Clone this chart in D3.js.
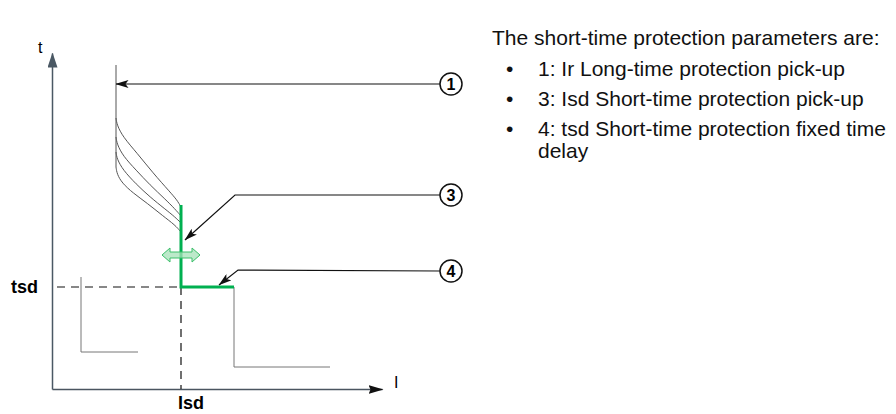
<!DOCTYPE html>
<html>
<head>
<meta charset="utf-8">
<script src="https://cdn.jsdelivr.net/npm/d3@7/dist/d3.min.js"></script>
<style>
  body { margin: 0; background: #fff; }
  svg { display: block; font-family: "Liberation Sans", Arial, sans-serif; }
</style>
</head>
<body>
<div id="chart"></div>
<script>
// diagram units: I to the right, t upward (arbitrary, no ticks)
const isd = 12.9;        // short-time pick-up current
const tsd = 10.2;        // short-time delay

// long-time vertical part (Ir) and the four long-time delay bands
const longTimeVertical = [[6.4, 32.4], [6.4, 22.2]];
const longTimeCurves = [
  [[6.4, 27.1], [6.5, 26.4], [7.1, 25.2], [8.5, 23.6], [10.1, 21.6], [11.8, 19.7], [12.5, 18.9], [12.9, 18.2]],
  [[6.4, 25.2], [6.5, 24.5], [7.1, 23.3], [8.4, 21.9], [9.8, 20.4], [11.3, 19.0], [12.3, 18.0], [12.9, 17.3]],
  [[6.4, 23.7], [6.5, 23.0], [7.1, 21.9], [8.4, 20.5], [9.8, 19.2], [11.3, 18.0], [12.3, 17.2], [12.9, 16.6]],
  [[6.4, 22.2], [6.5, 21.5], [7.0, 20.6], [8.1, 19.6], [9.5, 18.6], [11.1, 17.3], [12.3, 16.4], [12.9, 15.7]]
];
const shortTimeStep = [[isd, 18.4], [isd, tsd], [18.2, tsd]];
const shortTimeTail = [[18.2, tsd], [18.2, 2.2], [27.8, 2.2]];
const instantPart = [[2.9, 11.2], [2.9, 3.7], [8.6, 3.7]];

// callouts: label, circle position, path to the arrow tip
const calloutLabels = ['1', '3', '4'];
const calloutCircles = [[39.9, 30.5], [39.9, 19.4], [39.9, 11.8]];
const calloutPaths = [
  [[38.8, 30.5], [6.4, 30.5]],
  [[38.8, 19.4], [18.3, 19.4], [13.3, 14.9]],
  [[38.8, 11.8], [18.6, 11.9], [16.7, 10.4]]
];
const adjustCenter = [isd, 13.4];

const legendTitle = 'The short-time protection parameters are:';
const legendItems = [
  ['1: Ir Long-time protection pick-up'],
  ['3: Isd Short-time protection pick-up'],
  ['4: tsd Short-time protection fixed time', 'delay']
];

const width = 896, height = 414;
const green = '#00b050';

const x = d3.scaleLinear().domain([0, 33]).range([52, 382]);
const y = d3.scaleLinear().domain([0, 33.6]).range([389, 53]);

const svg = d3.select('#chart').append('svg')
  .attr('width', width).attr('height', height);

const defs = svg.append('defs');
function marker(id, path, w, h, refX, color) {
  defs.append('marker')
    .attr('id', id)
    .attr('viewBox', `0 0 ${w} ${h}`)
    .attr('refX', refX).attr('refY', h / 2)
    .attr('markerWidth', w).attr('markerHeight', h)
    .attr('markerUnits', 'userSpaceOnUse')
    .attr('orient', 'auto')
    .append('path').attr('d', path).attr('fill', color);
}
marker('ax-y', 'M0,0 L15,5 L0,10 Z', 15, 10, 14, '#4a5864');
marker('ax-x', 'M0,0 L15,4.5 L0,9 L2,4.5 Z', 15, 9, 14, '#111');
marker('call', 'M0,0 L13,4 L0,8 L3,4 Z', 13, 8, 12.5, '#111');

const line = d3.line().x(d => x(d[0])).y(d => y(d[1]));
const smooth = d3.line().x(d => x(d[0])).y(d => y(d[1])).curve(d3.curveBasis);

// axes (no ticks)
const xAxis = svg.append('g').attr('transform', `translate(0,${y(0)})`)
  .call(d3.axisBottom(x).tickValues([]).tickSizeOuter(0));
xAxis.select('.domain').attr('stroke', '#4a5560').attr('stroke-width', 1.5)
  .attr('marker-end', 'url(#ax-x)');
const yAxis = svg.append('g').attr('transform', `translate(${x(0)},0)`)
  .call(d3.axisLeft(y).tickValues([]).tickSizeOuter(0));
yAxis.select('.domain').attr('stroke', '#4a5864').attr('stroke-width', 1.5)
  .attr('marker-end', 'url(#ax-y)');

svg.append('text').attr('x', 38).attr('y', 53).attr('font-size', 16).text('t');
svg.append('text').attr('x', 394).attr('y', 388).attr('font-size', 16).text('I');

// dashed reference lines
const dashed = svg.append('g').attr('stroke', '#111').attr('stroke-width', 1.2)
  .attr('stroke-dasharray', '8,6').attr('fill', 'none');
dashed.append('path').attr('d', line([[0.5, tsd], [isd, tsd]]));
dashed.append('path').attr('d', line([[isd, tsd], [isd, 0]]));

svg.append('text').attr('x', 38).attr('y', 293).attr('text-anchor', 'end')
  .attr('font-size', 18).attr('font-weight', 'bold').text('tsd');
svg.append('text').attr('x', 178).attr('y', 409)
  .attr('font-size', 18).attr('font-weight', 'bold').text('Isd');

// trip curve
const curve = svg.append('g').attr('fill', 'none').attr('stroke', '#555').attr('stroke-width', 1);
curve.append('path').attr('d', line(longTimeVertical));
curve.selectAll('.lt').data(longTimeCurves).join('path').attr('class', 'lt').attr('d', smooth);
curve.append('path').attr('d', line(instantPart)).attr('stroke', '#777');
curve.append('path').attr('d', line(shortTimeTail)).attr('stroke', '#777');

// adjustment double arrow
const cx = x(adjustCenter[0]), cy = y(adjustCenter[1]);
const dbl = `M${cx - 19},${cy} L${cx - 11},${cy - 7} L${cx - 11},${cy - 3} L${cx + 11},${cy - 3} L${cx + 11},${cy - 7}
  L${cx + 19},${cy} L${cx + 11},${cy + 7} L${cx + 11},${cy + 3} L${cx - 11},${cy + 3} L${cx - 11},${cy + 7} Z`;

svg.append('path').attr('d', line(shortTimeStep))
  .attr('fill', 'none').attr('stroke', green).attr('stroke-width', 3);
svg.append('path').attr('d', dbl)
  .attr('fill', '#a6e2b8').attr('fill-opacity', 0.75)
  .attr('stroke', '#3cbf6a').attr('stroke-width', 1);

// callouts
svg.selectAll('.callout').data(calloutPaths).join('path').attr('class', 'callout')
  .attr('d', line).attr('fill', 'none').attr('stroke', '#111').attr('stroke-width', 1.2)
  .attr('marker-end', 'url(#call)');
const circles = svg.selectAll('.num').data(calloutLabels).join('g').attr('class', 'num')
  .attr('transform', (d, i) => `translate(${x(calloutCircles[i][0])},${y(calloutCircles[i][1])})`);
circles.append('circle').attr('r', 11).attr('fill', '#fff').attr('stroke', '#111').attr('stroke-width', 1.5);
circles.append('text').attr('text-anchor', 'middle').attr('y', 6)
  .attr('font-size', 16).attr('font-weight', 'bold').text(d => d);

// legend text
const legend = svg.append('g').attr('font-size', 21).attr('fill', '#111');
legend.append('text').attr('x', 492).attr('y', 45).text(legendTitle);
const itemBaselines = [76, 106, 136];
legendItems.forEach((lines, i) => {
  legend.append('text').attr('x', 506).attr('y', itemBaselines[i]).text('•');
  const t = legend.append('text').attr('x', 538).attr('y', itemBaselines[i]);
  lines.forEach((s, j) => t.append('tspan').attr('x', 538).attr('dy', j ? 22 : 0).text(s));
});
</script>
</body>
</html>
